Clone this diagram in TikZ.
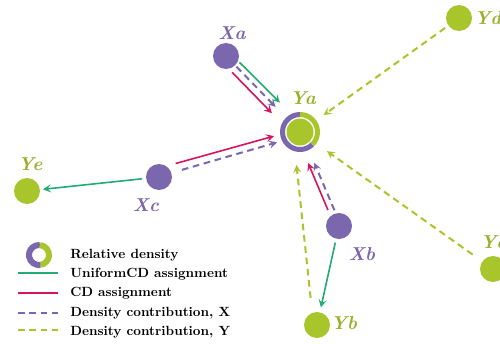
\documentclass[tikz,border=0pt]{standalone}
\usetikzlibrary{calc,arrows.meta}
\definecolor{cpurple}{HTML}{7B67AE}
\definecolor{cyg}{HTML}{A9C52C}
\definecolor{cylbl}{HTML}{98B02A}
\definecolor{cgreen}{HTML}{22AC74}
\definecolor{cred}{HTML}{D6145F}
\newcommand{\conn}[7]{\draw[#1,shorten <=#6,shorten >=#7] ($(#2)!#4!90:(#3)$) -- ($(#3)!#5!-90:(#2)$);}
\begin{document}
\begin{tikzpicture}[x=0.75pt,y=-0.75pt,
  xdot/.style={circle,fill=cpurple,inner sep=0pt,minimum size=19.5pt},
  ydot/.style={circle,fill=cyg,inner sep=0pt,minimum size=19.5pt},
  lbl/.style={font=\fontsize{14}{16}\selectfont\bfseries\itshape,inner sep=0pt},
  tip/.style={-{Stealth[length=6pt,width=6pt,inset=2.5pt]}},
  uni/.style={draw=cgreen,line width=1.2pt,tip},
  cda/.style={draw=cred,line width=1.2pt,tip},
  dx/.style={draw=cpurple,line width=1.5pt,dash pattern=on 5pt off 3.5pt,tip},
  dy/.style={draw=cyg,line width=1.5pt,dash pattern=on 5pt off 3.5pt,tip},
  leg/.style={font=\bfseries\fontsize{10}{12}\selectfont,anchor=west,inner sep=0pt}]
\useasboundingbox (0,0) rectangle (500,343);
\fill[white] (0,0) rectangle (500,343);

% nodes
\node[xdot] (Xa) at (226,56) {};
\node[xdot] (Xc) at (159,177) {};
\node[xdot] (Xb) at (339,226) {};
\node[ydot] (Ye) at (27,191) {};
\node[ydot] (Yb) at (317,325) {};
\node[ydot] (Yd) at (459,18) {};
\node[ydot] (Yc) at (493,269) {};
\node[circle,fill=cyg,inner sep=0pt,minimum size=20.25pt] (Ya) at (300,132) {};
\draw[cpurple,line width=3.75pt] (Ya.center) ++(45:17.5) arc[start angle=45,end angle=270,radius=17.5];
\draw[cyg,line width=3.75pt] (Ya.center) ++(-90:17.5) arc[start angle=-90,end angle=45,radius=17.5];

% labels
\node[lbl,text=cpurple] (lXa) at (232,33) {Xa};
\node[lbl,text=cylbl] (lYa) at (303,98) {Ya};
\node[lbl,text=cpurple] (lXc) at (146,205) {Xc};
\node[lbl,text=cylbl] (lYe) at (30,164) {Ye};
\node[lbl,text=cpurple] (lXb) at (362,254) {Xb};
\node[lbl,text=cylbl] (lYb) at (344,323) {Yb};
\node[lbl,text=cylbl,anchor=west] (lYd) at (474,18) {Yd};
\node[lbl,text=cylbl,anchor=west] (lYc) at (480,242) {Yc};

% connectors
\conn{uni}{Xa}{Ya}{3.75pt}{5pt}{10.5pt}{26.25pt}
\conn{dx}{Xa}{Ya}{0pt}{0pt}{11.25pt}{26.25pt}
\conn{cda}{Xa}{Ya}{-5.25pt}{-5.25pt}{12pt}{24.75pt}
\conn{cda}{Xc}{Ya}{6.4pt}{2.25pt}{15pt}{19.5pt}
\conn{dx}{Xc}{Ya}{0.4pt}{-2.7pt}{18pt}{18.75pt}
\conn{uni}{Xc}{Ye}{0pt}{0pt}{12.75pt}{12pt}
\conn{cda}{Xb}{Ya}{3pt}{3.4pt}{14.25pt}{23.8pt}
\conn{dx}{Xb}{Ya}{-1.5pt}{-0.75pt}{12.2pt}{25.5pt}
\conn{uni}{Xb}{Yb}{0pt}{0pt}{12.75pt}{13.5pt}
\conn{dy}{Yb}{Ya}{2.6pt}{5.25pt}{20.6pt}{24.4pt}
\conn{dy}{Yd}{Ya}{0pt}{0pt}{12.75pt}{21.75pt}
\conn{dy}{Yc}{Ya}{0pt}{0pt}{18.75pt}{24.75pt}

% legend
\coordinate (legring) at (39,255);
\draw[cpurple,line width=4.5pt] (legring) ++(80:10) arc[start angle=80,end angle=275,radius=10];
\draw[cyg,line width=4.5pt] (legring) ++(-85:10) arc[start angle=-85,end angle=80,radius=10];
\draw[cgreen,line width=1.3pt] (18,273) -- (58,273);
\draw[cred,line width=1.3pt] (18,293) -- (58,293);
\draw[cpurple,line width=1.6pt,dash pattern=on 5pt off 3.5pt] (18,313) -- (58,313);
\draw[cyg,line width=1.6pt,dash pattern=on 5pt off 3.5pt] (18,330) -- (58,330);
\node[leg] (t1) at (70,255) {Relative density};
\node[leg] (t2) at (70,274) {UniformCD assignment};
\node[leg] (t3) at (70,293) {CD assignment};
\node[leg] (t4) at (70,313) {Density contribution, X};
\node[leg] (t5) at (70,332) {Density contribution, Y};
\end{tikzpicture}
\end{document}
